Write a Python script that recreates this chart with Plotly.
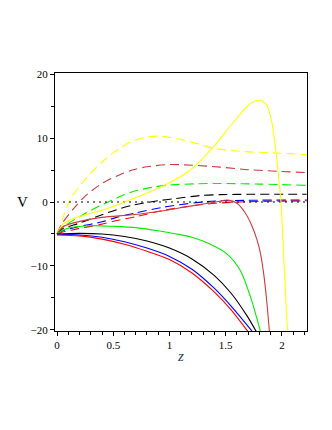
import plotly.graph_objects as go

# abscissa / values (z, V)
yel_dash_z = [0, 0.034, 0.08, 0.14, 0.255, 0.4, 0.55, 0.67, 0.8, 0.9, 1.0, 1.1, 1.27, 1.39, 1.57, 1.75, 1.95, 2.22]
yel_dash_v = [-5, -3.6, -1.0, 1.05, 3.65, 6.25, 8.3, 9.5, 10.15, 10.3, 10.1, 9.8, 9.0, 8.4, 8.0, 7.8, 7.66, 7.4]

brn_dash_z = [0, 0.04, 0.14, 0.255, 0.4, 0.55, 0.67, 0.8, 1.0, 1.2, 1.45, 1.7, 2.22]
brn_dash_v = [-5, -3.5, -1.2, 1.0, 2.9, 4.2, 5.0, 5.5, 5.85, 5.75, 5.45, 5.05, 4.6]

grn_dash_z = [0, 0.08, 0.2, 0.345, 0.49, 0.67, 0.85, 1.0, 1.24, 1.45, 1.8, 2.22]
grn_dash_v = [-5, -3.6, -2.3, -0.9, 0.3, 1.6, 2.3, 2.65, 2.85, 2.9, 2.8, 2.6]

blk_dash_z = [0, 0.05, 0.2, 0.4, 0.53, 0.67, 0.9, 1.04, 1.27, 1.45, 1.7, 2.22]
blk_dash_v = [-5, -4.2, -3.3, -2.0, -1.2, -0.5, 0.2, 0.5, 1.0, 1.15, 1.2, 1.2]

blu_dash_z = [0, 0.05, 0.18, 0.4, 0.53, 0.7, 0.95, 1.24, 1.41, 1.7, 2.22]
blu_dash_v = [-5, -4.5, -3.9, -3.1, -2.4, -1.7, -0.8, -0.1, 0.15, 0.27, 0.3]

red_dash_z = [0, 0.05, 0.18, 0.39, 0.53, 0.7, 0.95, 1.24, 1.41, 1.7, 2.22]
red_dash_v = [-5, -4.7, -4.2, -3.5, -2.9, -2.3, -1.3, -0.5, -0.2, 0.05, 0.15]

yel_z = [0, 0.05, 0.14, 0.4, 0.6, 0.8, 1.0, 1.2, 1.39, 1.57, 1.72, 1.8, 1.865, 1.91, 1.94, 1.96, 1.99, 2.02, 2.05]
yel_v = [-5, -3.5, -2.6, -1.3, 0.0, 1.4, 3.0, 5.2, 8.6, 12.5, 15.4, 15.9, 15.1, 12.5, 8.9, 5.7, 0.3, -10, -20.5]

brn_z = [0, 0.05, 0.14, 0.4, 0.67, 1.0, 1.2, 1.41, 1.52, 1.6, 1.67, 1.73, 1.78, 1.81, 1.84, 1.865, 1.89]
brn_v = [-5, -3.9, -3.3, -2.4, -2.0, -1.2, -0.6, 0.0, 0.3, -0.2, -1.6, -3.6, -6.0, -8.1, -11.5, -15.5, -20.5]

grn_z = [0, 0.05, 0.12, 0.3, 0.5, 0.7, 0.9, 1.05, 1.2, 1.35, 1.51, 1.63, 1.72, 1.81]
grn_v = [-5, -4.4, -4.0, -3.7, -3.8, -4.0, -4.5, -4.95, -5.5, -6.5, -8.1, -10.7, -14.8, -20.3]

blk_z = [0, 0.2, 0.4, 0.6, 0.8, 1.0, 1.2, 1.4, 1.55, 1.69, 1.78]
blk_v = [-5, -4.9, -5.0, -5.4, -6.1, -7.2, -8.9, -11.5, -14.3, -17.8, -20.5]

blu_z = [0, 0.2, 0.4, 0.6, 0.8, 1.0, 1.2, 1.4, 1.55, 1.74]
blu_v = [-5.05, -5.15, -5.5, -6.2, -7.2, -8.5, -10.5, -13.5, -16.3, -20.3]

red_z = [0, 0.2, 0.4, 0.6, 0.8, 1.0, 1.2, 1.4, 1.55, 1.70]
red_v = [-5.15, -5.3, -5.8, -6.6, -7.7, -9.0, -11.1, -14.1, -16.9, -20.3]

zero_z = [0, 2.22]
zero_v = [0, 0]

YEL = "#ffff00"
BRN = "#cc3b3b"
GRN = "#00ee00"
BLU = "#0000ff"
RED = "#ff0000"
BLK = "#000000"
DASH = "9px,5px"

series = [
    (yel_dash_z, yel_dash_v, YEL, DASH),
    (brn_dash_z, brn_dash_v, BRN, DASH),
    (grn_dash_z, grn_dash_v, GRN, DASH),
    (blk_dash_z, blk_dash_v, BLK, DASH),
    (blu_dash_z, blu_dash_v, BLU, DASH),
    (red_dash_z, red_dash_v, RED, DASH),
    (zero_z, zero_v, BLK, "2px,4px"),
    (yel_z, yel_v, YEL, "solid"),
    (brn_z, brn_v, BRN, "solid"),
    (grn_z, grn_v, GRN, "solid"),
    (blk_z, blk_v, BLK, "solid"),
    (blu_z, blu_v, BLU, "solid"),
    (red_z, red_v, RED, "solid"),
]

fig = go.Figure()
for xs, ys, col, dash in series:
    fig.add_trace(go.Scatter(
        x=xs, y=ys, mode="lines",
        line=dict(color=col, width=1.1, dash=dash, shape="spline", smoothing=0.8),
        showlegend=False, hoverinfo="skip",
    ))

axis_font = dict(family="Liberation Serif, Times New Roman, serif", size=11, color="black")

fig.update_xaxes(
    range=[-0.018, 2.223], showgrid=False, zeroline=False,
    showline=True, linecolor="black", linewidth=1, mirror=True,
    ticks="outside", ticklen=4, tickwidth=1, tickcolor="black",
    tickvals=[0, 0.5, 1, 1.5, 2], ticktext=["0", "0.5", "1", "1.5", "2"],
    minor=dict(dtick=0.1, tick0=0, ticks="outside", ticklen=3, tickcolor="black", showgrid=False),
    tickfont=axis_font,
    title=dict(text="<i>z</i>", font=dict(family="Liberation Serif, serif", size=15), standoff=0),
)
fig.update_yaxes(
    range=[-20.16, 20.16], showgrid=False, zeroline=False,
    showline=True, linecolor="black", linewidth=1, mirror=True,
    ticks="outside", ticklen=4, tickwidth=1, tickcolor="black",
    tickvals=[-20, -10, 0, 10, 20],
    minor=dict(dtick=5, tick0=0, ticks="outside", ticklen=3, tickcolor="black", showgrid=False),
    tickfont=axis_font,
)

fig.add_annotation(
    text="V", xref="paper", yref="y", x=-0.13, y=0, showarrow=False,
    font=dict(family="Liberation Serif, serif", size=15, color="black"),
    xanchor="center", yanchor="middle",
)

# page body adds an 8px margin, so the figure is a little smaller than the window
fig.update_layout(
    width=316, height=414,
    margin=dict(l=47, r=17, t=65, b=91),
    paper_bgcolor="white", plot_bgcolor="white",
)

fig.write_html("out.html")
